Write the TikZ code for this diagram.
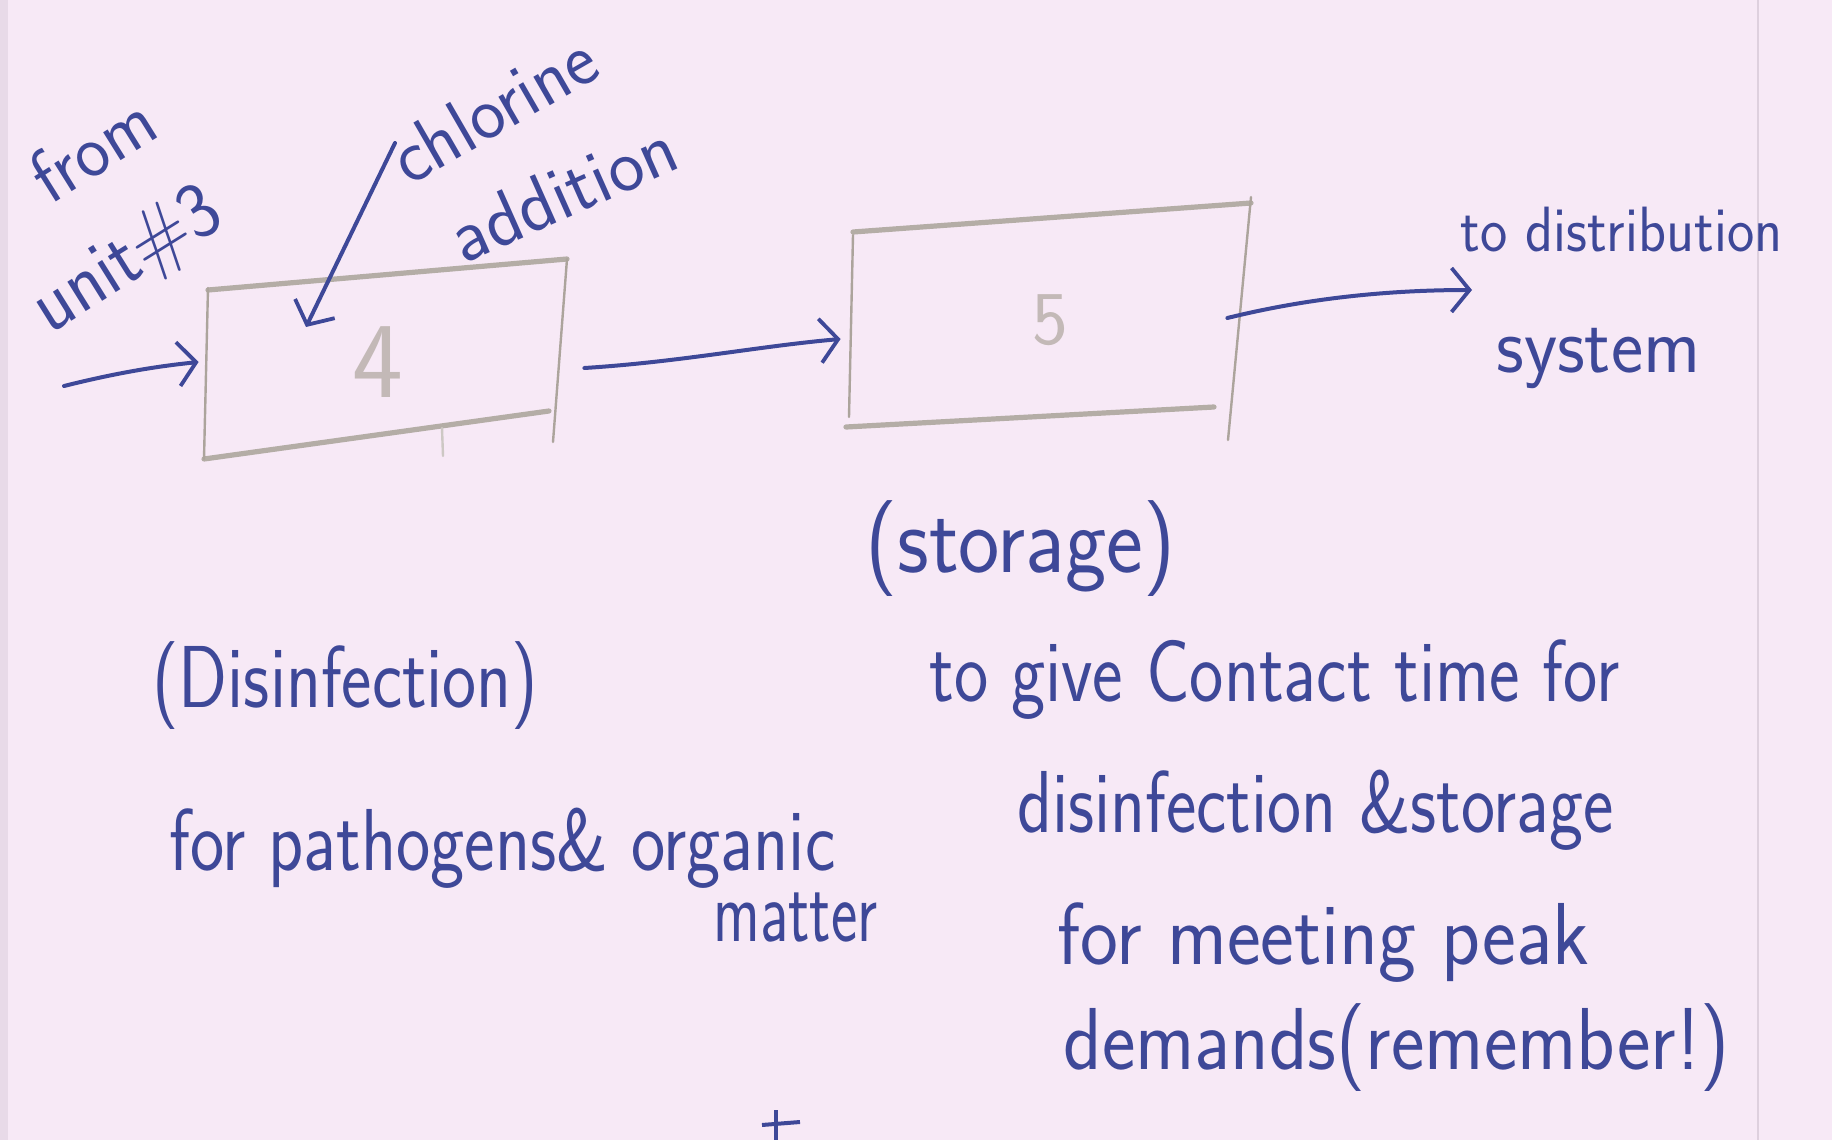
\documentclass[tikz,border=0pt]{standalone}
\usepackage{graphicx}
\usetikzlibrary{arrows.meta}
\definecolor{paper}{RGB}{247,233,246}
\definecolor{ink}{RGB}{62,72,152}
\definecolor{pencil}{RGB}{172,164,156}
\definecolor{papEdge}{RGB}{222,208,222}
% stretch a handwritten line horizontally to a given width, keeping its height
\newcommand{\hw}[2]{\resizebox{#1}{\height}{#2}}
\begin{document}
\begin{tikzpicture}[x=0.5pt,y=-0.5pt,
  inkarrow/.style={draw=ink, line width=2pt, line cap=round,
    -{Straight Barb[length=9pt,width=22pt,line width=1.9pt]}},
  pencilside/.style={draw=pencil, line width=1.2pt, line cap=round},
  pencilrim/.style={draw=pencil!90, line width=2.6pt, line cap=round},
  unitbox/.style={inner sep=0pt, text=pencil!70!paper, font=\sffamily},
  note/.style={text=ink, inner sep=0pt, anchor=base west},
  tilted/.style={text=ink, inner sep=0pt, anchor=center},
]
% sheet
\fill[paper] (0,0) rectangle (1832,1140);
\useasboundingbox (0,0) rectangle (1832,1140);
\draw[papEdge, line width=1pt] (1758,0) -- (1758,1140);
\fill[papEdge!60!paper] (0,0) rectangle (8,1140);

% unit 4 (disinfection) and unit 5 (storage)
\node[unitbox, minimum width=170pt, minimum height=80pt,
      font=\sffamily\fontsize{54}{54}\selectfont] (box4) at (378,362) {4};
\node[unitbox, minimum width=185pt, minimum height=100pt,
      font=\sffamily\fontsize{38}{38}\selectfont] (box5) at (1050,320) {5};

% sketched outlines of the two units
\draw[pencilrim]  (208,290) -- (567,259);
\draw[pencilside] (567,259) -- (553,442);
\draw[pencilrim]  (204,459) -- (549,411);
\draw[pencilside] (208,288) -- (204,459);
\draw[pencilside, draw=pencil!60] (442,428) -- (443,456);

\draw[pencilrim]  (853,232) -- (1251,203);
\draw[pencilside] (1251,197) -- (1228,440);
\draw[pencilrim]  (846,427) -- (1214,407);
\draw[pencilside] (853,235) -- (849,417);

% flow connectors
\coordinate (src) at (64,386);
\coordinate (dist) at (1472,290);
\coordinate (cl) at (395,143);
\draw[inkarrow] (src) .. controls (120,372) and (160,366) .. ([xshift=-4.5pt]box4.west);
\draw[inkarrow] ([shift={(18pt,-3pt)}]box4.east) .. controls (680,362) and (760,346) .. ([shift={(-12pt,-9.5pt)}]box5.west);
\draw[inkarrow] ([shift={(-4pt,1pt)}]box5.east) .. controls (1300,300) and (1380,290) .. (dist);
\draw[inkarrow] (cl) -- ([shift={(-36pt,17.5pt)}]box4.center);

% labels at the units
\node[tilted, rotate=32, font=\sffamily\fontsize{38}{38}\selectfont] (from) at (92,148) {\hw{66pt}{from}};
\node[tilted, rotate=32, font=\sffamily\fontsize{40}{40}\selectfont] (unit) at (128,262) {\hw{104pt}{unit\#3}};
\node[tilted, rotate=30, font=\sffamily\fontsize{38}{38}\selectfont] (chlor) at (493,108) {\hw{112pt}{chlorine}};
\node[tilted, rotate=24, font=\sffamily\fontsize{38}{38}\selectfont] (addit) at (563,192) {\hw{120pt}{addition}};

\node[note, font=\sffamily\fontsize{32}{32}\selectfont] (todist) at (1460,251) {\hw{161pt}{to distribution}};
\node[note, font=\sffamily\fontsize{40}{40}\selectfont] (sys) at (1496,372) {\hw{102pt}{system}};

\node[note, font=\sffamily\fontsize{48}{48}\selectfont] (stor) at (865,572) {\hw{155pt}{(storage)}};

% notes on the purpose of each unit
\node[note, font=\sffamily\fontsize{44}{44}\selectfont] (dis) at (152,707) {\hw{193pt}{(Disinfection)}};
\node[note, font=\sffamily\fontsize{44}{44}\selectfont] (path) at (169,870) {\hw{333pt}{for pathogens\& organic}};
\node[note, font=\sffamily\fontsize{44}{44}\selectfont] (matt) at (713,941) {\hw{82pt}{matter}};

\node[note, font=\sffamily\fontsize{44}{44}\selectfont] (l1) at (929,701) {\hw{345pt}{to give Contact time for}};
\node[note, font=\sffamily\fontsize{44}{44}\selectfont] (l2) at (1017,832) {\hw{298pt}{disinfection \&storage}};
\node[note, font=\sffamily\fontsize{44}{44}\selectfont] (l3) at (1057,964) {\hw{266pt}{for meeting peak}};
\node[note, font=\sffamily\fontsize{44}{44}\selectfont] (l4) at (1063,1069) {\hw{333pt}{demands(remember!)}};

% start of the next line of writing, cut off at the sheet's edge
\draw[ink, line width=2pt] (776,1110) -- (776,1140);
\draw[ink, line width=2pt] (762,1125) -- (800,1122);
\end{tikzpicture}
\end{document}
